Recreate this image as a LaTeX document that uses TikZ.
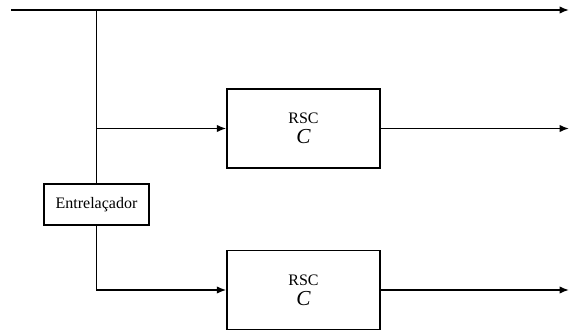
\documentclass[tikz,border=0pt]{standalone}
\usepackage{fontspec}
\setmainfont{Liberation Serif}
\usetikzlibrary{arrows.meta,positioning}
\tikzset{
  kutija/.style={draw=black,line width=1.1pt,align=center,inner sep=2pt,
                 fill=white,font=\fontsize{12}{15}\selectfont},
  str/.style={-{Latex[length=7pt,width=5.5pt]},line width=1.1pt,black},
}
\newcommand{\velikoC}{{\fontsize{16}{15}\selectfont\itshape C}}

\begin{document}
\begin{tikzpicture}[x=0.75pt,y=-0.75pt]
  \useasboundingbox (0,0) rectangle (569,331);

  % ---------- BLOKOVI ----------
  \node[kutija,minimum width=114.75pt,minimum height=59.25pt] (krsc1) at (303.5,128.5) {RSC\\\velikoC};
  \node[kutija,minimum width=114.75pt,minimum height=59.25pt] (krsc2) at (303.5,290) {RSC\\\velikoC};
  \node[kutija,minimum width=78.75pt,minimum height=30.75pt] (kentrel) at (96.5,204.5) {Entrelaçador};

  % ---------- TACKE ----------
  \coordinate (ulaz)   at (11,10);
  \coordinate (grana)  at (kentrel.north |- ulaz);
  \coordinate (izlaz1) at (569,10);
  \coordinate (izlaz2) at (569,128.5);
  \coordinate (izlaz3) at (569,290);

  % ---------- STRELICE ----------
  \draw[str] (ulaz) -- (izlaz1);
  \draw[line width=1.1pt] (grana) -- (kentrel.north);
  \draw[str] (grana |- krsc1.west) -- (krsc1.west);
  \draw[str] (krsc1.east) -- (izlaz2);
  \draw[str] (kentrel.south) |- (krsc2.west);
  \draw[str] (krsc2.east) -- (izlaz3);

\end{tikzpicture}
\end{document}
